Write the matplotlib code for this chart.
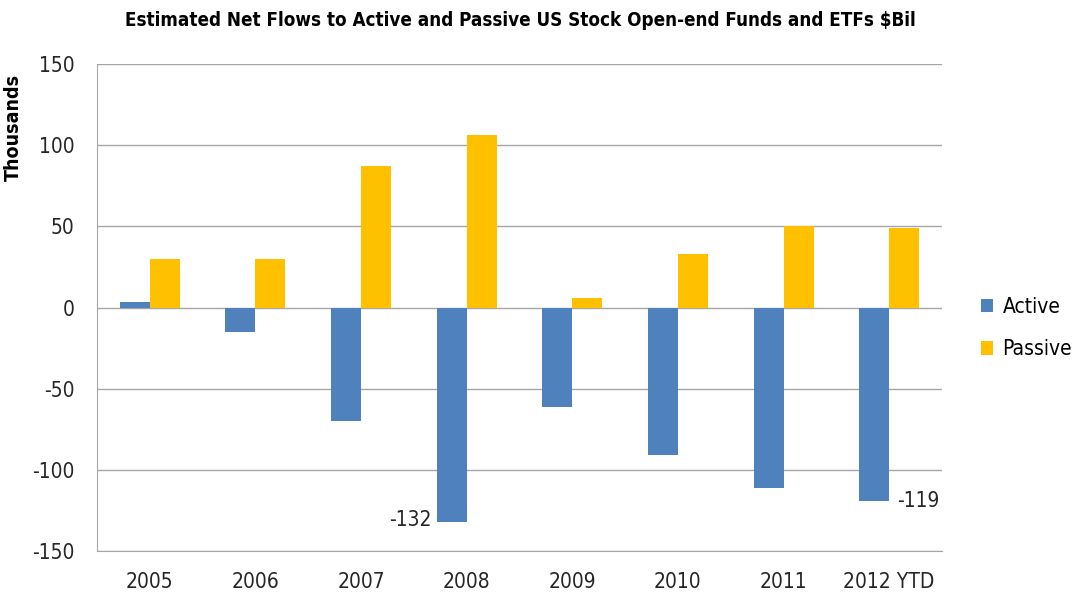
import numpy as np
import matplotlib.pyplot as plt

years = ['2005', '2006', '2007', '2008', '2009', '2010', '2011', '2012 YTD']
active = [3.5, -15, -70, -132, -61, -91, -111, -119]
passive = [30, 30, 87, 106, 6, 33, 50, 49]

plt.rcParams['font.family'] = ['DejaVu Sans']
plt.rcParams['font.stretch'] = 'condensed'
plt.rcParams['axes.unicode_minus'] = False

blue = '#4F81BD'
gold = '#FFC000'
grid_c = '#A6A6A6'
txt_c = '#262626'

fig = plt.figure(figsize=(10.78, 6.04), dpi=100)
ax = fig.add_axes([97 / 1078, 1 - 551 / 604, 845 / 1078, 487 / 604])

x = np.arange(len(years))
w = 0.284
ax.bar(x - w / 2, active, w, color=blue, label='Active', zorder=3)
ax.bar(x + w / 2, passive, w, color=gold, label='Passive', zorder=3)

ax.set_xlim(-0.5, len(years) - 0.5)
ax.set_ylim(-150, 150)
ax.set_yticks(np.arange(-150, 151, 50))
ax.set_xticks(x)
ax.set_xticklabels(years)
ax.yaxis.grid(True, color=grid_c, linewidth=1, zorder=0)
ax.set_axisbelow(True)

for s in ['top', 'right']:
    ax.spines[s].set_visible(False)
for s in ['left', 'bottom']:
    ax.spines[s].set_color(grid_c)
ax.tick_params(axis='x', length=0, labelsize=15, labelcolor=txt_c, pad=15)
ax.tick_params(axis='y', length=0, labelsize=15, labelcolor=txt_c, pad=16)

ax.set_ylabel('Thousands', fontsize=14, fontweight='bold')
ax.yaxis.set_label_coords(-0.088, 0.869)
fig.text(0.483, 1 - 20 / 604, 'Estimated Net Flows to Active and Passive US Stock Open-end Funds and ETFs $Bil',
         ha='center', va='center', fontsize=13.5, fontweight='bold')

ax.annotate(f'{active[3]:.0f}', (x[3] - w, active[3]), xytext=(-4, 1), textcoords='offset points',
            ha='right', va='center', fontsize=15, color=txt_c)
ax.annotate(f'{active[7]:.0f}', (x[7], active[7]), xytext=(6, 0), textcoords='offset points',
            ha='left', va='center', fontsize=15, color=txt_c)

fig.legend(loc='center left', bbox_to_anchor=(962 / 1078, 1 - 328 / 604), frameon=False,
           fontsize=15, handlelength=0.6, handleheight=0.6, labelspacing=1.1, handletextpad=0.45)

fig.savefig('out.png', dpi=100)
